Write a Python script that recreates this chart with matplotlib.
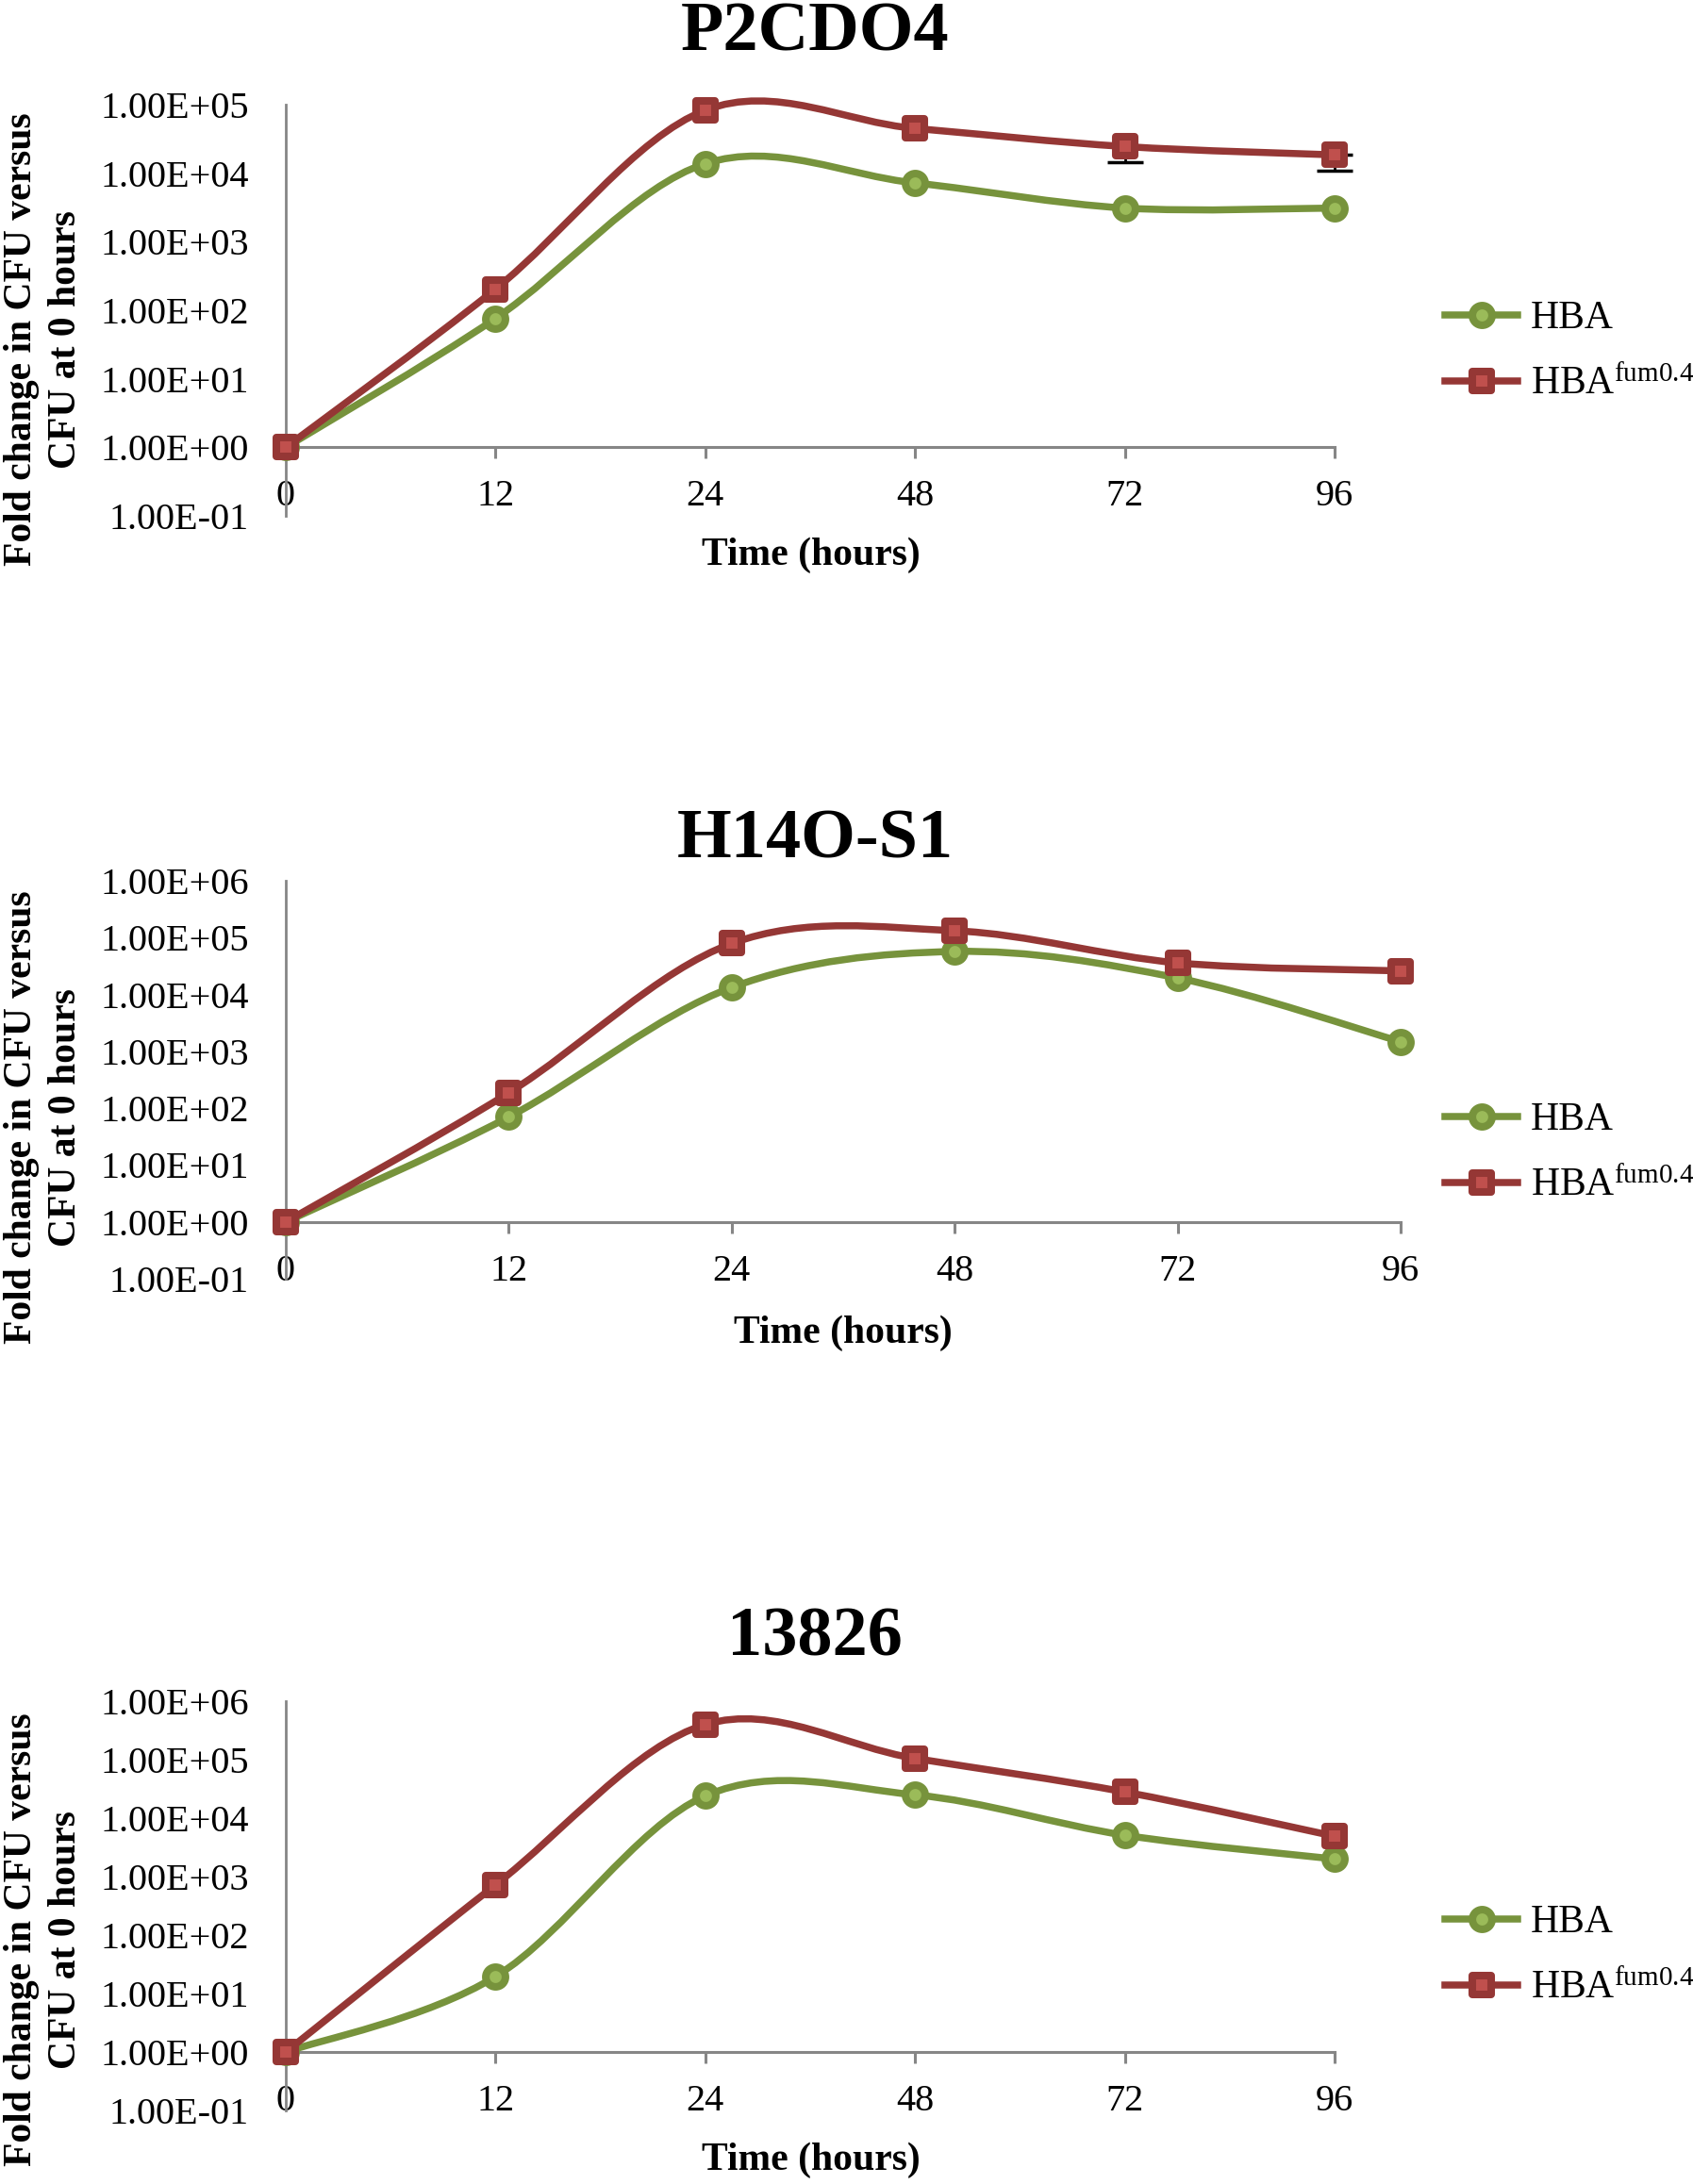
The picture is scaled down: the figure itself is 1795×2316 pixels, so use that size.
import numpy as np
import matplotlib
matplotlib.use('Agg')
import matplotlib.pyplot as plt
from matplotlib.path import Path
from matplotlib.patches import PathPatch
from matplotlib.lines import Line2D
from matplotlib.markers import MarkerStyle
from matplotlib.ticker import FixedLocator, FixedFormatter, NullLocator

plt.rcParams['font.family'] = ['Liberation Serif', 'DejaVu Serif']
plt.rcParams['mathtext.fontset'] = 'custom'
plt.rcParams['mathtext.rm'] = 'Liberation Serif'
plt.rcParams['mathtext.it'] = 'Liberation Serif:italic'
plt.rcParams['mathtext.bf'] = 'Liberation Serif:bold'

# ---------------- data ----------------
categories = ["0", "12", "24", "48", "72", "96"]
titles = ["P2CDO4", "H14O-S1", "13826"]
series_names = ["HBA", r"HBA$^{\mathrm{fum0.4}}$"]
x_label = "Time (hours)"
y_label_lines = ["Fold change in CFU versus", "CFU at 0 hours"]

p2cdo4_hba = [1, 76, 13800, 7200, 3100, 3100]
p2cdo4_fum = [1, 204, 83000, 45000, 24500, 18500]
p2cdo4_fum_err = [0, 0, 0, 0, 9800, 7700]

h14o_hba = [1, 70, 13300, 57000, 19500, 1480]
h14o_fum = [1, 186, 79000, 132000, 36000, 26000]

c13826_hba = [1, 19.5, 24000, 25000, 5100, 2000]
c13826_fum = [1, 720, 400000, 105000, 28000, 4900]

yticks_a = [1e-1, 1e0, 1e1, 1e2, 1e3, 1e4, 1e5]
ylabels_a = ["1.00E-01", "1.00E+00", "1.00E+01", "1.00E+02", "1.00E+03",
             "1.00E+04", "1.00E+05"]
yticks_b = [1e-1, 1e0, 1e1, 1e2, 1e3, 1e4, 1e5, 1e6]
ylabels_b = ["1.00E-01", "1.00E+00", "1.00E+01", "1.00E+02", "1.00E+03",
             "1.00E+04", "1.00E+05", "1.00E+06"]

# ---------------- style ----------------
GREEN_LINE = '#77933C'
GREEN_FILL = '#9BBB59'
RED_LINE = '#953735'
RED_FILL = '#C0504D'
GREY = '#868686'
LW = 5.4
MS = 15.0
MEW = 5.8
FS = 29

W, H = 1795, 2316
fig = plt.figure(figsize=(W / 100, H / 100), dpi=100)


def fx(px):
    return px / W


def fy(py):
    return 1 - py / H


def smooth_path(xs, ys):
    lx = np.asarray(xs, float)
    ly = np.log10(np.asarray(ys, float))
    n = len(lx)
    verts = [(lx[0], 10 ** ly[0])]
    codes = [Path.MOVETO]
    for i in range(n - 1):
        i0 = max(i - 1, 0)
        i3 = min(i + 2, n - 1)
        c1x = lx[i] + (lx[i + 1] - lx[i0]) / 6
        c1y = ly[i] + (ly[i + 1] - ly[i0]) / 6
        c2x = lx[i + 1] - (lx[i3] - lx[i]) / 6
        c2y = ly[i + 1] - (ly[i3] - ly[i]) / 6
        verts += [(c1x, 10 ** c1y), (c2x, 10 ** c2y), (lx[i + 1], 10 ** ly[i + 1])]
        codes += [Path.CURVE4] * 3
    return Path(verts, codes)


circle = MarkerStyle('o')
square = MarkerStyle('s', joinstyle='round')


def draw_series(ax, vals, line_c, fill_c, marker, z, err=None):
    xs = np.arange(len(categories))
    if err is not None:
        err = np.asarray(err, float)
        sel = err > 0
        vals_a = np.asarray(vals, float)
        # the upper half of each bar is hidden behind the marker in the original
        ax.errorbar(xs[sel], vals_a[sel], yerr=[err[sel], np.zeros(sel.sum())],
                    fmt='none', ecolor='black', elinewidth=2, capsize=14,
                    capthick=2.5, zorder=z - 0.5, clip_on=False)
    patch = PathPatch(smooth_path(xs, vals), facecolor='none', edgecolor=line_c,
                      lw=LW, capstyle='round', joinstyle='round', zorder=z,
                      clip_on=False)
    ax.add_patch(patch)
    ax.plot(xs, vals, linestyle='none', marker=marker, ms=MS, mfc=fill_c,
            mec=line_c, mew=MEW, zorder=z + 0.1, clip_on=False)


def setup_axes(rect, yticks, ylabels):
    ax = fig.add_axes(rect)
    ax.set_yscale('log')
    ax.set_ylim(yticks[0], yticks[-1])
    ax.set_xlim(0, len(categories) - 1)
    ax.yaxis.set_major_locator(FixedLocator(yticks))
    ax.yaxis.set_major_formatter(FixedFormatter(ylabels))
    ax.yaxis.set_minor_locator(NullLocator())
    ax.set_xticks(range(len(categories)))
    ax.set_xticklabels(categories)
    ax.spines['top'].set_visible(False)
    ax.spines['right'].set_visible(False)
    ax.spines['bottom'].set_position(('data', 1))
    ax.spines['left'].set_color(GREY)
    ax.spines['left'].set_linewidth(2.0)
    ax.spines['bottom'].set_color(GREY)
    ax.spines['bottom'].set_linewidth(2.2)
    ax.tick_params(axis='y', length=0, pad=28, labelsize=FS)
    ax.tick_params(axis='x', length=8.6, width=2.2, color=GREY, direction='out',
                   pad=16, labelsize=FS)
    ax.patch.set_visible(False)
    return ax


panels = [
    dict(rect=[fx(303), fy(547), fx(1415 - 303), (547 - 111) / H],
         yt=yticks_a, yl=ylabels_a, hba=p2cdo4_hba, fum=p2cdo4_fum, err=p2cdo4_fum_err,
         title_y=35, xlab=(860, 589), ylab_y=360, leg_y=373),
    dict(rect=[fx(303), fy(1356), fx(1485 - 303), (1356 - 934) / H],
         yt=yticks_b, yl=ylabels_b, hba=h14o_hba, fum=h14o_fum, err=None,
         title_y=891, xlab=(894, 1414), ylab_y=1185, leg_y=1223),
    dict(rect=[fx(303), fy(2238), fx(1415 - 303), (2238 - 1804) / H],
         yt=yticks_b, yl=ylabels_b, hba=c13826_hba, fum=c13826_fum, err=None,
         title_y=1737, xlab=(860, 2291), ylab_y=2057, leg_y=2074),
]

for title, p in zip(titles, panels):
    ax = setup_axes(p['rect'], p['yt'], p['yl'])
    draw_series(ax, p['hba'], GREEN_LINE, GREEN_FILL, circle, 3)
    draw_series(ax, p['fum'], RED_LINE, RED_FILL, square, 4, err=p['err'])
    fig.text(fx(864), fy(p['title_y']), title, ha='center', va='center',
             fontsize=53.5, fontweight='bold')
    fig.text(fx(p['xlab'][0]), fy(p['xlab'][1]), x_label, ha='center', va='center',
             fontsize=30, fontweight='bold')
    fig.text(fx(23), fy(p['ylab_y']), y_label_lines[0], rotation=90, ha='center',
             va='center', fontsize=30, fontweight='bold')
    fig.text(fx(70), fy(p['ylab_y']), y_label_lines[1], rotation=90, ha='center',
             va='center', fontsize=30, fontweight='bold')
    handles = [
        Line2D([0], [0], color=GREEN_LINE, lw=LW, marker=circle, ms=MS,
               mfc=GREEN_FILL, mec=GREEN_LINE, mew=MEW),
        Line2D([0], [0], color=RED_LINE, lw=LW, marker=square, ms=MS,
               mfc=RED_FILL, mec=RED_LINE, mew=MEW),
    ]
    fig.legend(handles, series_names, loc='center left',
               bbox_to_anchor=(fx(1532), fy(p['leg_y'])), frameon=False,
               fontsize=30, handlelength=1.85, handletextpad=0.33,
               labelspacing=0.75, borderpad=0, borderaxespad=0)

fig.savefig('out.png', dpi=100, facecolor='white')
